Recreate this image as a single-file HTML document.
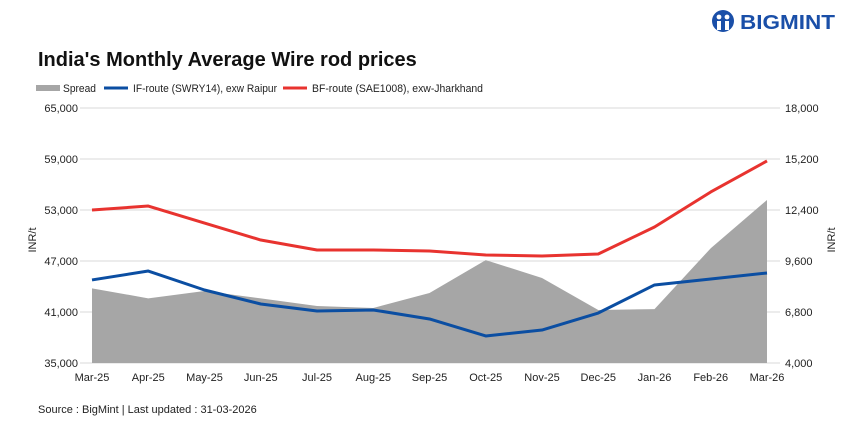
<!DOCTYPE html>
<html><head><meta charset="utf-8"><style>
body{margin:0;background:#fff;font-family:"Liberation Sans",Arial,sans-serif;}
svg text{font-family:"Liberation Sans",Arial,sans-serif;}
</style></head><body>
<svg id="c" width="860" height="432" viewBox="0 0 860 432" xmlns="http://www.w3.org/2000/svg">
<g>
<circle cx="723" cy="21" r="11" fill="#1a4fa8"/>
<circle cx="719" cy="17" r="2.4" fill="#fff"/><circle cx="727" cy="17" r="2.4" fill="#fff"/>
<rect x="717" y="21" width="4" height="9" fill="#fff"/><rect x="725" y="21" width="4" height="9" fill="#fff"/>
<text x="740" y="29" font-size="20" font-weight="bold" fill="#1a4fa8" textLength="95" lengthAdjust="spacingAndGlyphs">BIGMINT</text>
</g>
<text x="38" y="66" font-size="20" font-weight="bold" fill="#111">India's Monthly Average Wire rod prices</text>
<g>
<rect x="36" y="85" width="24" height="6" fill="#a6a6a6"/>
<text x="63" y="92" font-size="11" fill="#222" textLength="33" lengthAdjust="spacingAndGlyphs">Spread</text>
<line x1="104" y1="88" x2="128" y2="88" stroke="#0b4ea2" stroke-width="3"/>
<text x="133" y="92" font-size="11" fill="#222" textLength="144" lengthAdjust="spacingAndGlyphs">IF-route (SWRY14), exw Raipur</text>
<line x1="283" y1="88" x2="307" y2="88" stroke="#e8332f" stroke-width="3"/>
<text x="312" y="92" font-size="11" fill="#222" textLength="171" lengthAdjust="spacingAndGlyphs">BF-route (SAE1008), exw-Jharkhand</text>
</g>
<g id="plot"></g>
<text transform="translate(36,240) rotate(-90)" font-size="11" text-anchor="middle" fill="#222">INR/t</text>
<text transform="translate(835,240) rotate(-90)" font-size="11" text-anchor="middle" fill="#222">INR/t</text>
<text x="38" y="413" font-size="11" fill="#222">Source : BigMint | Last updated : 31-03-2026</text>
</svg>
<script>
const categories=["Mar-25","Apr-25","May-25","Jun-25","Jul-25","Aug-25","Sep-25","Oct-25","Nov-25","Dec-25","Jan-26","Feb-26","Mar-26"];
const spread=[8100,7550,7950,7550,7130,7020,7840,9650,8670,6910,6960,10300,12950];
const ifRoute=[44770,45820,43590,41940,41120,41240,40180,38180,38880,40880,44180,44880,45590];
const bfRoute=[53000,53470,51470,49470,48290,48290,48180,47710,47590,47820,51000,55120,58770];
const leftTicks=[35000,41000,47000,53000,59000,65000];
const rightTicks=[4000,6800,9600,12400,15200,18000];
const NS="http://www.w3.org/2000/svg";
const g=document.getElementById('plot');
const x0=92,x1=767,yB=363,yT=108;
const xs=i=>x0+i*(x1-x0)/(categories.length-1);
const yL=v=>yB-(v-35000)/(65000-35000)*(yB-yT);
const yR=v=>yB-(v-4000)/(18000-4000)*(yB-yT);
function el(t,a){const e=document.createElementNS(NS,t);for(const k in a)e.setAttribute(k,a[k]);g.appendChild(e);return e;}
const fmt=v=>v.toLocaleString('en-US');
leftTicks.forEach((v,i)=>{
 const l=el('line',{x1:80,x2:780,y1:yL(v),y2:yL(v),stroke:'#d9d9d9','stroke-width':1});
 
 
 const t=el('text',{x:78,y:yL(v)+4,'font-size':11,'text-anchor':'end',fill:'#222'});t.textContent=fmt(v);
 
 
});
rightTicks.forEach(v=>{
 const t=el('text',{x:785,y:yR(v)+4,'font-size':11,fill:'#222'});t.textContent=fmt(v);
 
 
});
let d='M'+xs(0)+','+yB;spread.forEach((v,i)=>d+=' L'+xs(i)+','+yR(v));d+=' L'+xs(spread.length-1)+','+yB+'Z';
const a=el('path',{d:d,fill:'#a6a6a6'});


function line(arr,col,name){const p=el('polyline',{points:arr.map((v,i)=>xs(i)+','+yL(v)).join(' '),fill:'none',stroke:col,'stroke-width':3,'stroke-linejoin':'round'});
 
 }
line(ifRoute,'#0b4ea2','if-route-line');
line(bfRoute,'#e8332f','bf-route-line');
categories.forEach((c,i)=>{const t=el('text',{x:xs(i),y:381,'font-size':11,'text-anchor':'middle',fill:'#222'});t.textContent=c;
 
 });
</script>
</body></html>
